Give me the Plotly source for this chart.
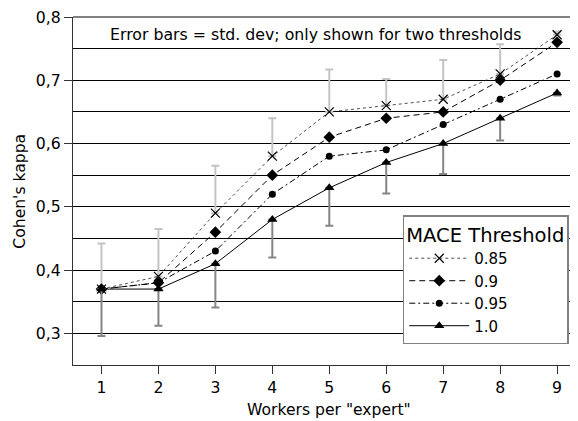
import plotly.graph_objects as go

workers = [1, 2, 3, 4, 5, 6, 7, 8, 9]
kappa_085 = [0.37, 0.39, 0.49, 0.58, 0.65, 0.66, 0.67, 0.71, 0.772]
kappa_090 = [0.37, 0.38, 0.46, 0.55, 0.61, 0.64, 0.65, 0.70, 0.76]
kappa_095 = [0.37, 0.38, 0.43, 0.52, 0.58, 0.59, 0.63, 0.67, 0.71]
kappa_100 = [0.37, 0.37, 0.41, 0.48, 0.53, 0.57, 0.60, 0.64, 0.68]
std_085 = [0.072, 0.075, 0.075, 0.06, 0.067, 0.042, 0.062, 0.047, 0.005]
std_100 = [0.074, 0.058, 0.069, 0.06, 0.06, 0.049, 0.048, 0.035, 0.004]
y_ticks = [0.3, 0.4, 0.5, 0.6, 0.7, 0.8]
y_ticktext = ["0,3", "0,4", "0,5", "0,6", "0,7", "0,8"]

FONT = "DejaVu Sans"
fig = go.Figure()

fig.add_trace(go.Scatter(
    x=workers, y=kappa_085, name="0.85", mode="lines+markers",
    line=dict(color="#222", width=0.8, dash="dot"),
    marker=dict(symbol="x-thin-open", size=9, color="black", line=dict(width=1.2, color="black")),
    error_y=dict(type="data", symmetric=False, array=std_085, arrayminus=[0] * 9,
                 color="#c4c4c4", thickness=2, width=4),
))
fig.add_trace(go.Scatter(
    x=workers, y=kappa_090, name="0.9", mode="lines+markers",
    line=dict(color="black", width=1, dash="6px,4px"),
    marker=dict(symbol="diamond", size=9, color="black"),
))
fig.add_trace(go.Scatter(
    x=workers, y=kappa_095, name="0.95", mode="lines+markers",
    line=dict(color="black", width=1, dash="6px,3px,2px,3px"),
    marker=dict(symbol="circle", size=7, color="black"),
))
fig.add_trace(go.Scatter(
    x=workers, y=kappa_100, name="1.0", mode="lines+markers",
    line=dict(color="black", width=1),
    marker=dict(symbol="triangle-up", size=9, color="black"),
    error_y=dict(type="data", symmetric=False, array=[0] * 9, arrayminus=std_100,
                 color="#858585", thickness=2, width=4),
))

fig.update_layout(
    width=570, height=413,
    margin=dict(l=65, r=0, t=9, b=56),
    paper_bgcolor="white", plot_bgcolor="white",
    font=dict(family=FONT, size=15.7, color="black"),
    showlegend=True,
    legend=dict(
        title=dict(text="MACE Threshold", font=dict(size=19.5, family=FONT)),
        x=0.653, y=0.4307, xanchor="left", yanchor="top",
        bgcolor="white", bordercolor="#808080", borderwidth=1.5,
        font=dict(size=15, family=FONT), itemwidth=60,
        tracegroupgap=0,
    ),
    xaxis=dict(
        range=[0.5, 9.367], tickvals=workers, showgrid=False, zeroline=False,
        showline=True, linecolor="#333", linewidth=1.2, mirror=False,
        ticks="outside", ticklen=8, tickcolor="#333", tickwidth=1,
        tickfont=dict(size=15.7, family=FONT), ticklabeloverflow="allow",
    ),
    yaxis=dict(
        range=[0.25, 0.8], tickvals=y_ticks, ticktext=y_ticktext, zeroline=False,
        showgrid=True, gridcolor="black", gridwidth=1,
        showline=True, linecolor="#333", linewidth=1.2, mirror=False,
        ticks="outside", ticklen=8, tickcolor="#333", tickwidth=1,
        tickfont=dict(size=15.7, family=FONT), ticklabeloverflow="allow",
        minor=dict(dtick=0.05, tick0=0.25, showgrid=True, gridcolor="black", gridwidth=1, ticks=""),
    ),
    shapes=[dict(type="line", xref="paper", yref="paper", x0=0, x1=1, y0=1, y1=1,
                 line=dict(color="#808080", width=2))],
    annotations=[
        dict(text="Error bars = std. dev; only shown for two thresholds",
             xref="paper", yref="paper", x=0.48, y=0.950, xanchor="center", yanchor="middle",
             showarrow=False, font=dict(size=15.75, family=FONT)),
        dict(text='Workers per "expert"', xref="x", yref="paper", x=5.0, y=-0.1292,
             xanchor="center", yanchor="middle", showarrow=False,
             font=dict(size=15.6, family=FONT)),
        dict(text="Cohen's kappa", xref="paper", yref="paper", x=-0.1056, y=0.5,
             xanchor="center", yanchor="middle", textangle=-90, showarrow=False,
             font=dict(size=15.6, family=FONT)),
    ],
)

fig.write_html("out.html")
